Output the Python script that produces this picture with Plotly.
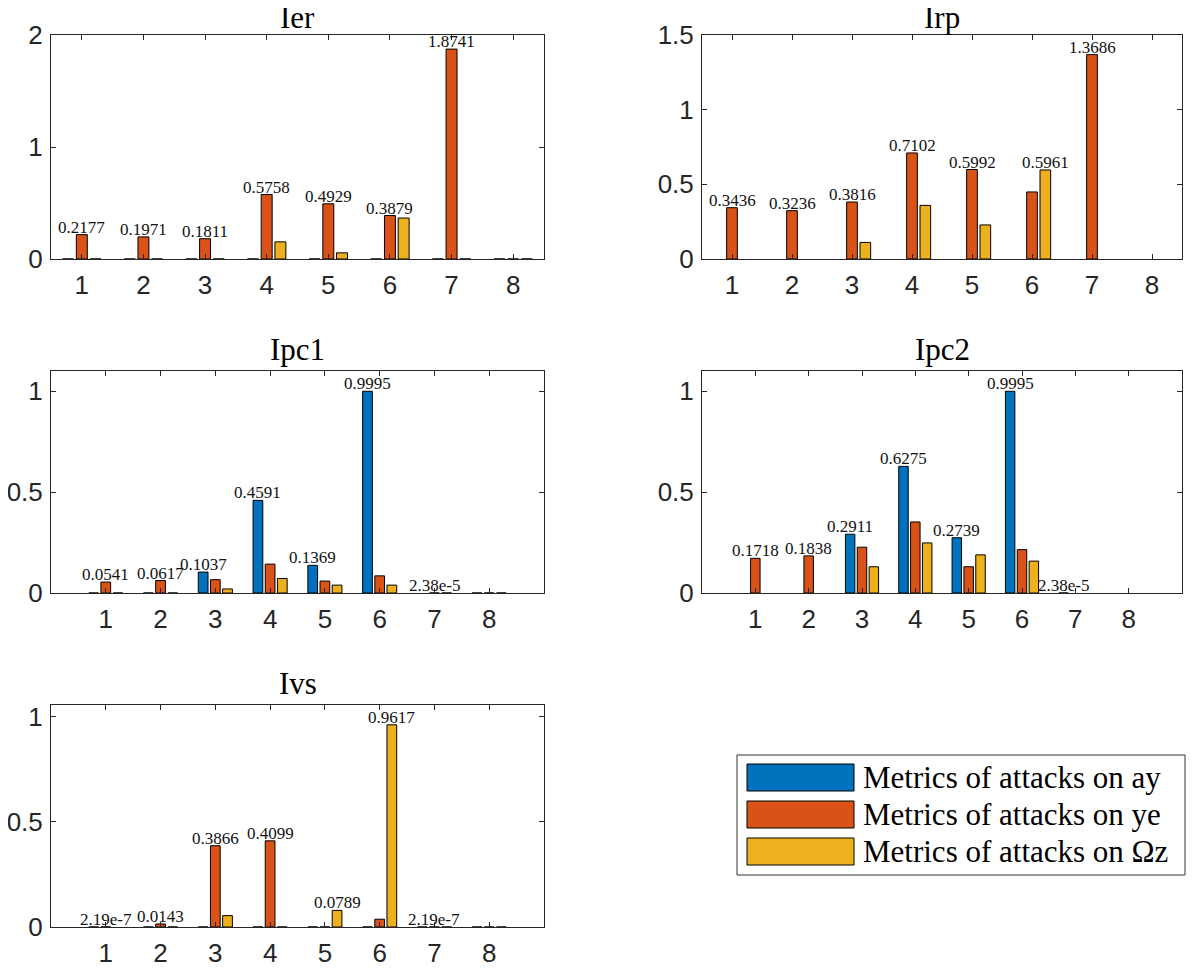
import plotly.graph_objects as go

# ---------------- data ----------------
categories = [1, 2, 3, 4, 5, 6, 7, 8]
series_names = ["Metrics of attacks on ay", "Metrics of attacks on ye", "Metrics of attacks on Ωz"]
colors = ["#0072BD", "#D95319", "#EDB120"]

ier_ay = [0, 0, 0, 0, 0, 0, 0, 0]
ier_ye = [0.2177, 0.1971, 0.1811, 0.5758, 0.4929, 0.3879, 1.8741, 0]
ier_oz = [0, 0, 0, 0.153, 0.055, 0.366, 0, 0]
ier_labels = ["0.2177", "0.1971", "0.1811", "0.5758", "0.4929", "0.3879", "1.8741"]

irp_ay = [None, None, None, None, None, None, None, None]
irp_ye = [0.3436, 0.3236, 0.3816, 0.7102, 0.5992, 0.449, 1.3686, None]
irp_oz = [None, None, 0.111, 0.359, 0.228, 0.5961, None, None]
irp_labels = ["0.3436", "0.3236", "0.3816", "0.7102", "0.5992", "0.5961", "1.3686"]

ipc1_ay = [0, 0, 0.1037, 0.4591, 0.1369, 0.9995, None, 0]
ipc1_ye = [0.0541, 0.0617, 0.066, 0.143, 0.059, 0.085, 2.38e-5, 0]
ipc1_oz = [0, 0, 0.020, 0.072, 0.039, 0.039, 0, 0]
ipc1_labels = ["0.0541", "0.0617", "0.1037", "0.4591", "0.1369", "0.9995", "2.38e-5"]

ipc2_ay = [None, None, 0.2911, 0.6275, 0.2739, 0.9995, 2.38e-5, None]
ipc2_ye = [0.1718, 0.1838, 0.227, 0.352, 0.130, 0.215, None, None]
ipc2_oz = [None, None, 0.130, 0.248, 0.189, 0.158, None, None]
ipc2_labels = ["0.1718", "0.1838", "0.2911", "0.6275", "0.2739", "0.9995", "2.38e-5"]

ivs_ay = [0, 0, 0, 0, 0, 0, 0, 0]
ivs_ye = [2.19e-7, 0.0143, 0.3866, 0.4099, 0, 0.037, 2.19e-7, 0]
ivs_oz = [None, 0, 0.054, 0, 0.0789, 0.9617, 0, 0]
ivs_labels = ["2.19e-7", "0.0143", "0.3866", "0.4099", "0.0789", "0.9617", "2.19e-7"]

titles = ["Ier", "Irp", "Ipc1", "Ipc2", "Ivs"]
y_max = [2, 1.5, 1.1, 1.1, 1.056]
y_dtick = [1, 0.5, 0.5, 0.5, 0.5]

# ---------------- layout helpers ----------------
W, H = 1200, 968
OFF = 8  # page body margin seen in the screenshot
def px_x(v):
    return (v - OFF) / W
def px_y(v):
    return 1 - (v - OFF) / H

# pixel boxes in screenshot coords (left, right, top, bottom)
boxes = [
    (51, 544, 35, 259),
    (702, 1182, 35, 259),
    (51, 544, 371, 593),
    (702, 1182, 371, 593),
    (51, 544, 705, 927),
]
x_ranges = [[0.5, 8.5], [0.5, 8.5], [0, 9], [0, 9], [0, 9]]

panels = [
    (ier_ay, ier_ye, ier_oz, ier_labels),
    (irp_ay, irp_ye, irp_oz, irp_labels),
    (ipc1_ay, ipc1_ye, ipc1_oz, ipc1_labels),
    (ipc2_ay, ipc2_ye, ipc2_oz, ipc2_labels),
    (ivs_ay, ivs_ye, ivs_oz, ivs_labels),
]

BARGAP = 1 - 2.0 / 3.0
slot = (1 - BARGAP) / 3.0
AXC = "#262626"

fig = go.Figure()
annotations = []
layout_axes = {}

for i, (series, box) in enumerate(zip(panels, boxes)):
    n = i + 1
    xa = "x" if n == 1 else f"x{n}"
    ya = "y" if n == 1 else f"y{n}"
    vals = series[:3]
    labels = series[3]
    for s in range(3):
        fig.add_trace(go.Bar(
            x=categories, y=vals[s], name=series_names[s],
            marker=dict(color=colors[s], line=dict(color="black", width=1)),
            xaxis=xa, yaxis=ya, showlegend=False, hoverinfo="x+y",
        ))
    l, r, t, b = box
    layout_axes[("xaxis" if n == 1 else f"xaxis{n}")] = dict(
        domain=[px_x(l), px_x(r)], anchor=ya, range=x_ranges[i],
        tickmode="array", tickvals=categories, ticktext=[str(c) for c in categories],
        showline=True, linecolor=AXC, linewidth=1, mirror="ticks",
        ticks="inside", ticklen=5, tickcolor=AXC, showgrid=False, zeroline=False,
        tickfont=dict(family="Liberation Sans, Arial", size=26, color=AXC),
        ticklabelstandoff=3, automargin=False,
    )
    layout_axes[("yaxis" if n == 1 else f"yaxis{n}")] = dict(
        domain=[px_y(b), px_y(t)], anchor=xa, range=[0, y_max[i]],
        dtick=y_dtick[i], tick0=0,
        showline=True, linecolor=AXC, linewidth=1, mirror="ticks",
        ticks="inside", ticklen=5, tickcolor=AXC, showgrid=False, zeroline=False,
        tickfont=dict(family="Liberation Sans, Arial", size=26, color=AXC),
        ticklabelstandoff=2, automargin=False,
    )
    # title (top row sits a little lower so it stays inside the page)
    annotations.append(dict(
        text=titles[i], xref="paper", yref="paper",
        x=(px_x(l) + px_x(r)) / 2, y=px_y(t), xanchor="center", yanchor="bottom",
        yshift=-1 if t < 100 else 3, showarrow=False, borderpad=0,
        font=dict(family="Liberation Serif, Times New Roman", size=31, color="black"),
    ))
    # value labels over the tallest bar of each group
    for k, lab in enumerate(labels):
        group = [vals[s][k] for s in range(3)]
        best_s, best_v = None, None
        for s, v in enumerate(group):
            if v is not None and (best_v is None or v > best_v):
                best_s, best_v = s, v
        annotations.append(dict(
            text=lab, xref=xa, yref=ya,
            x=categories[k] + (best_s - 1) * slot, y=best_v,
            xanchor="center", yanchor="bottom", yshift=-4, showarrow=False,
            font=dict(family="Liberation Serif, Times New Roman", size=17, color="#111111"),
        ))

# ---------------- manual legend ----------------
shapes = []
leg_l, leg_r, leg_t, leg_b = 737, 1185, 755, 875
shapes.append(dict(type="rect", xref="paper", yref="paper",
                   x0=px_x(leg_l), x1=px_x(leg_r), y0=px_y(leg_b), y1=px_y(leg_t),
                   line=dict(color="#333333", width=1), fillcolor="white", layer="above"))
row_tops = [764, 801, 838]
for s in range(3):
    rt = row_tops[s]
    shapes.append(dict(type="rect", xref="paper", yref="paper",
                       x0=px_x(747), x1=px_x(854), y0=px_y(rt + 27), y1=px_y(rt),
                       line=dict(color="black", width=1), fillcolor=colors[s], layer="above"))
    annotations.append(dict(
        text=series_names[s], xref="paper", yref="paper",
        x=px_x(861), y=px_y(rt + 13.5), xanchor="left", yanchor="middle",
        showarrow=False,
        font=dict(family="Liberation Serif, Times New Roman", size=31, color="black"),
    ))

fig.update_layout(
    width=W, height=H, margin=dict(l=0, r=0, t=0, b=0, autoexpand=False),
    paper_bgcolor="white", plot_bgcolor="white",
    barmode="group", bargap=BARGAP, bargroupgap=0.2,
    annotations=annotations, shapes=shapes, showlegend=False,
    **layout_axes,
)

fig.write_html("out.html")
